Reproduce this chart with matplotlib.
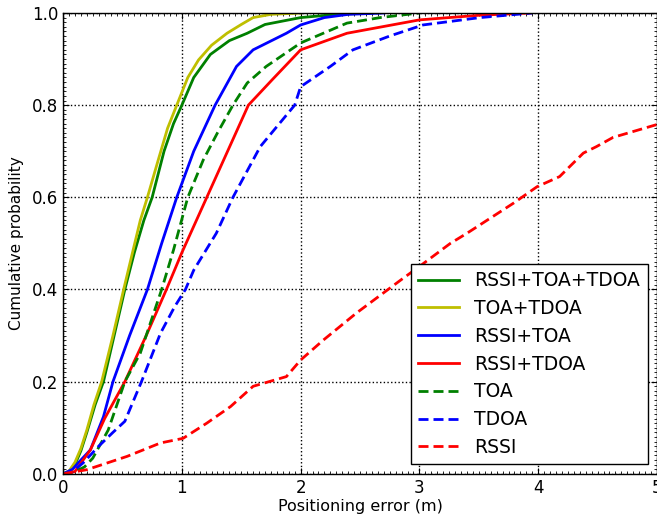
import matplotlib
matplotlib.use("Agg")
import matplotlib.pyplot as plt
from matplotlib.ticker import MultipleLocator

# Empirical CDF knots (positioning error in m, cumulative probability)
rssi_toa_tdoa_x = [0, 0.05, 0.1, 0.15, 0.2, 0.27, 0.34, 0.43, 0.52, 0.6, 0.68, 0.75, 0.85, 0.93, 1.0, 1.1, 1.24, 1.4, 1.55, 1.7, 2.0, 2.3, 2.6]
rssi_toa_tdoa_y = [0, 0.005, 0.02, 0.05, 0.09, 0.15, 0.2, 0.3, 0.4, 0.48, 0.55, 0.6, 0.7, 0.76, 0.8, 0.86, 0.91, 0.94, 0.956, 0.975, 0.99, 0.997, 1.0]

toa_tdoa_x = [0, 0.05, 0.1, 0.15, 0.2, 0.26, 0.325, 0.42, 0.51, 0.59, 0.65, 0.71, 0.8, 0.88, 0.957, 1.05, 1.14, 1.25, 1.38, 1.5, 1.6, 1.75, 2.0]
toa_tdoa_y = [0, 0.006, 0.025, 0.055, 0.095, 0.15, 0.2, 0.3, 0.4, 0.486, 0.55, 0.6, 0.68, 0.75, 0.8, 0.86, 0.898, 0.93, 0.956, 0.975, 0.99, 0.997, 1.0]

rssi_toa_x = [0, 0.08, 0.15, 0.23, 0.34, 0.42, 0.56, 0.71, 0.83, 0.957, 1.1, 1.28, 1.46, 1.6, 1.88, 2.0, 2.2, 2.4, 2.7]
rssi_toa_y = [0, 0.01, 0.03, 0.052, 0.124, 0.2, 0.3, 0.4, 0.5, 0.6, 0.7, 0.8, 0.884, 0.92, 0.956, 0.974, 0.99, 0.997, 1.0]

rssi_tdoa_x = [0, 0.1, 0.23, 0.35, 0.52, 0.7, 0.87, 1.0, 1.21, 1.35, 1.56, 1.76, 2.0, 2.39, 3.0, 3.5, 3.93]
rssi_tdoa_y = [0, 0.005, 0.052, 0.12, 0.2, 0.3, 0.4, 0.48, 0.6, 0.68, 0.8, 0.855, 0.92, 0.956, 0.985, 0.995, 1.0]

toa_x = [0, 0.1, 0.18, 0.25, 0.38, 0.52, 0.65, 0.83, 0.93, 1.05, 1.18, 1.3, 1.43, 1.55, 1.71, 2.0, 2.39, 2.67, 3.0]
toa_y = [0, 0.005, 0.015, 0.034, 0.095, 0.2, 0.262, 0.4, 0.486, 0.6, 0.681, 0.74, 0.8, 0.848, 0.884, 0.935, 0.978, 0.99, 1.0]

tdoa_x = [0, 0.08, 0.17, 0.3, 0.42, 0.52, 0.66, 0.82, 0.94, 1.03, 1.1, 1.29, 1.43, 1.66, 1.95, 2.0, 2.25, 2.44, 2.75, 3.03, 3.51, 3.95]
tdoa_y = [0, 0.005, 0.024, 0.06, 0.09, 0.114, 0.2, 0.305, 0.363, 0.4, 0.442, 0.522, 0.6, 0.71, 0.8, 0.84, 0.884, 0.92, 0.95, 0.974, 0.99, 1.0]

rssi_x = [0, 0.2, 0.54, 0.82, 1.01, 1.21, 1.41, 1.6, 1.88, 2.0, 2.19, 2.47, 2.84, 3.0, 3.26, 3.4, 3.79, 3.99, 4.18, 4.38, 4.49, 4.63, 5.0]
rssi_y = [0, 0.009, 0.038, 0.067, 0.077, 0.11, 0.146, 0.19, 0.211, 0.247, 0.29, 0.349, 0.42, 0.45, 0.5, 0.522, 0.587, 0.623, 0.645, 0.696, 0.71, 0.73, 0.758]

labels = ["RSSI+TOA+TDOA", "TOA+TDOA", "RSSI+TOA", "RSSI+TDOA", "TOA", "TDOA", "RSSI"]
series = [
    (rssi_toa_tdoa_x, rssi_toa_tdoa_y, "#008000", "-"),
    (toa_tdoa_x, toa_tdoa_y, "#bfbf00", "-"),
    (rssi_toa_x, rssi_toa_y, "#0000ff", "-"),
    (rssi_tdoa_x, rssi_tdoa_y, "#ff0000", "-"),
    (toa_x, toa_y, "#008000", "--"),
    (tdoa_x, tdoa_y, "#0000ff", "--"),
    (rssi_x, rssi_y, "#ff0000", "--"),
]

plt.rcParams["font.family"] = ["DejaVu Sans"]
fig = plt.figure(figsize=(6.57, 5.19), dpi=100)
ax = fig.add_axes([0.096, 0.087, 0.904, 0.888])

for (x, y, c, ls), lab in zip(series, labels):
    kw = dict(color=c, lw=2, label=lab)
    if ls == "--":
        ax.plot(x, y, dashes=(3.6, 1.8), **kw)
    else:
        ax.plot(x, y, **kw)

ax.set_xlim(0, 5)
ax.set_ylim(0, 1)
ax.xaxis.set_major_locator(MultipleLocator(1))
ax.yaxis.set_major_locator(MultipleLocator(0.2))
ax.xaxis.set_minor_locator(MultipleLocator(0.05))
ax.yaxis.set_minor_locator(MultipleLocator(0.01))
ax.tick_params(which="both", direction="in", top=True, right=True, labelsize=12)
ax.tick_params(which="major", length=4)
ax.tick_params(which="minor", length=2)
ax.grid(True, which="major", color="black", linestyle=":", linewidth=1)
ax.set_xlabel("Positioning error (m)", fontsize=11.5, labelpad=2)
ax.set_ylabel("Cumulative probability", fontsize=11, labelpad=6)
for s in ax.spines.values():
    s.set_linewidth(1)

leg = ax.legend(loc="lower right", fontsize=13.5, fancybox=False, framealpha=1,
                edgecolor="black", handlelength=2.2, labelspacing=0.47,
                borderaxespad=0.5)
leg.get_frame().set_linewidth(1)

fig.savefig("out.png", dpi=100)
